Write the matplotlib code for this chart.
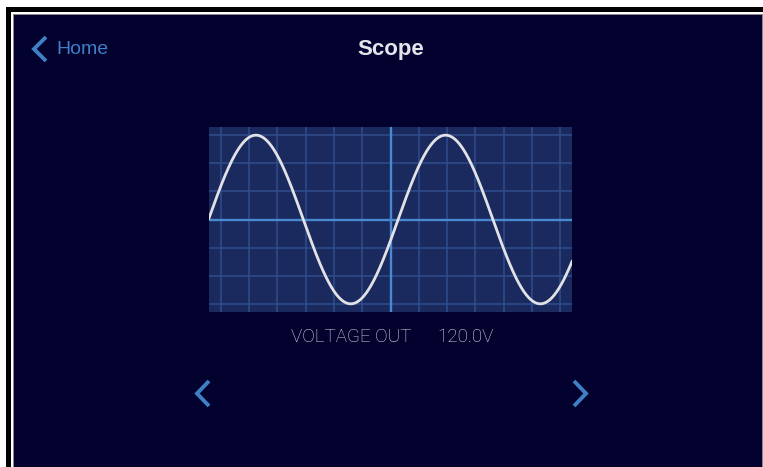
import numpy as np
import matplotlib
matplotlib.use("Agg")
import matplotlib.pyplot as plt
from matplotlib.patches import Rectangle

# ---- data ----
title = "Scope"
back_label = "Home"
readout_label = "VOLTAGE OUT"
readout_value = "120.0V"
amplitude_div = 2.98      # peak amplitude in grid divisions
period_div = 6.70         # period in grid divisions
zero_cross_div = -6.43    # x of rising zero crossing (divisions)
x_divs = [-6, -5, -4, -3, -2, -1, 0, 1, 2, 3, 4, 5, 6]
y_divs = [-3, -2, -1, 0, 1, 2, 3]

W, H = 763, 467
BG = "#03012e"
PANEL = "#1a2a5e"
GRID = "#2f4d8c"
AXIS = "#4a88d2"
TRACE = "#e2e2e6"
ACCENT = "#3f7fc6"
TEXT = "#e4e4ec"

fig = plt.figure(figsize=(W / 100, H / 100), dpi=100, facecolor="white")
ov = fig.add_axes([0, 0, 1, 1])
ov.set_xlim(0, W)
ov.set_ylim(H, 0)
ov.axis("off")

# frame
ov.add_patch(Rectangle((6, 7), W, H, facecolor="black", edgecolor="none"))
ov.add_patch(Rectangle((10.5, 11.5), W, H, facecolor="white", edgecolor="none"))
ov.add_patch(Rectangle((13, 13.5), W, H, facecolor="#8a8a8a", edgecolor="none"))
ov.add_patch(Rectangle((14, 14.5), W - 15, H, facecolor=BG, edgecolor="none"))

# header
ov.plot([46, 34, 46], [37, 49, 61], color=ACCENT, lw=2.8, solid_capstyle="butt",
        solid_joinstyle="miter")
ov.text(56, 50, back_label, color=ACCENT, fontsize=14, family="Liberation Sans",
        ha="left", va="center")
ov.text(391, 49, title, color=TEXT, fontsize=16, family="Liberation Sans",
        fontweight="bold", ha="center", va="center")

# readout
ov.text(291, 336.5, readout_label, color="#dcdce4", fontsize=13.5, family="Roboto",
        fontweight="light", ha="left", va="center")
ov.text(437, 336.5, readout_value, color="#dcdce4", fontsize=13.5, family="Roboto",
        fontweight="light", ha="left", va="center")

# nav chevrons
ov.plot([209, 197, 209], [381, 393.5, 406], color=ACCENT, lw=2.8,
        solid_capstyle="butt", solid_joinstyle="miter")
ov.plot([574, 586, 574], [381, 393.5, 406], color=ACCENT, lw=2.8,
        solid_capstyle="butt", solid_joinstyle="miter")

# scope panel
L, R, T, B = 209, 572, 127, 312
ax = fig.add_axes([L / W, (H - B) / H, (R - L) / W, (B - T) / H])
ax.set_facecolor(PANEL)
xr = (R - L) / 2 / 28.3
yr = (B - T) / 2 / 28.3
ax.set_xlim(-xr, xr)
ax.set_ylim(-yr, yr)
for s in ax.spines.values():
    s.set_visible(False)
ax.set_xticks([])
ax.set_yticks([])
for xv in x_divs:
    if xv != 0:
        ax.axvline(xv, color=GRID, lw=1.1, zorder=1)
for yv in y_divs:
    if yv != 0:
        ax.axhline(yv, color=GRID, lw=1.1, zorder=1)
ax.axvline(0, color=AXIS, lw=1.7, zorder=2)
ax.axhline(0, color=AXIS, lw=1.7, zorder=2)

xs = np.linspace(-xr, xr, 800)
ys = amplitude_div * np.sin(2 * np.pi * (xs - zero_cross_div) / period_div)
ax.plot(xs, ys, color=TRACE, lw=2.0, zorder=3)

fig.savefig("out.png", dpi=100, facecolor="white")
